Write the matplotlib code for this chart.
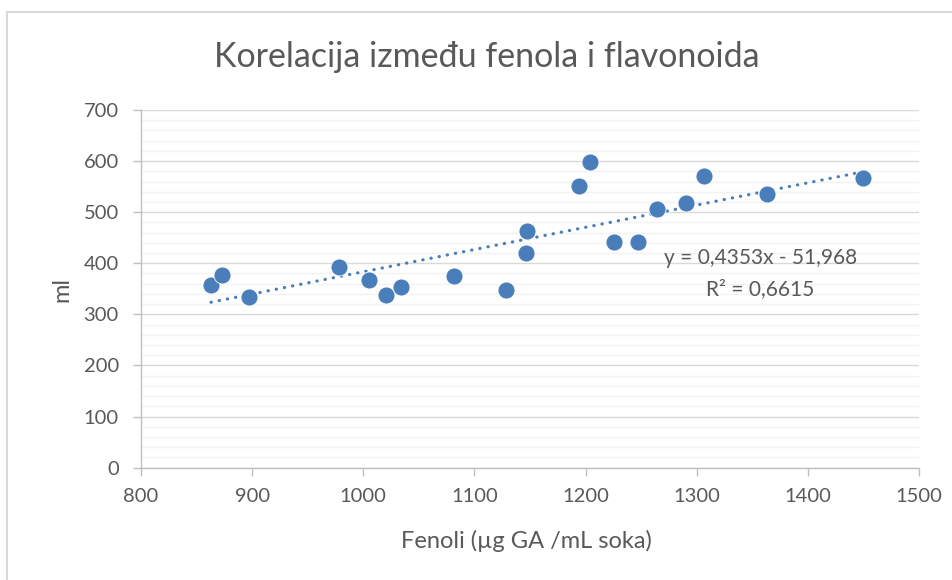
import matplotlib
matplotlib.use("Agg")
import matplotlib.pyplot as plt
from matplotlib.patches import Rectangle
import numpy as np

plt.rcParams['font.family'] = ['Lato', 'DejaVu Sans']

fenoli = [863, 873, 897, 978, 1005, 1020, 1034, 1082, 1128, 1146, 1147,
          1194, 1204, 1226, 1247, 1264, 1290, 1307, 1363, 1450]
flavonoidi = [358, 377, 334, 392, 368, 338, 354, 375, 347, 421, 463,
              551, 598, 441, 441, 507, 518, 570, 535, 566]

slope = 0.4353
intercept = -51.968
eq_text = "y = 0,4353x - 51,968"
r2_text = "R² = 0,6615"

title = "Korelacija između fenola i flavonoida"
xlabel = "Fenoli (µg GA /mL soka)"
ylabel = "ml"
xticks = [800, 900, 1000, 1100, 1200, 1300, 1400, 1500]
yticks = [0, 100, 200, 300, 400, 500, 600, 700]

txt = '#595959'
blue = '#4a7ebb'

fig = plt.figure(figsize=(9.53, 5.80), dpi=100)
fig.patches.append(Rectangle((6.5/953, -0.1), 1.2, 1.1 - 11.5/580, transform=fig.transFigure,
                             fill=False, edgecolor='#d9d9d9', linewidth=1.5))
ax = fig.add_axes([141/953, 1-467.6/580, 778/953, 357.6/580])

ax.set_xlim(800, 1500)
ax.set_ylim(0, 700)
ax.set_xticks(xticks)
ax.set_yticks(yticks)
ax.set_yticks(np.arange(0, 701, 20), minor=True)
ax.grid(which='major', axis='y', color='#d9d9d9', linewidth=1.0, zorder=0)
ax.grid(which='minor', axis='y', color='#f2f2f2', linewidth=1.0, zorder=0)
ax.set_axisbelow(True)
for s in ['top', 'right']:
    ax.spines[s].set_visible(False)
for s in ['left', 'bottom']:
    ax.spines[s].set_color('#bfbfbf')
    ax.spines[s].set_linewidth(1.0)
ax.tick_params(which='major', axis='both', colors='#bfbfbf', labelcolor=txt,
               labelsize=14.5, length=6, width=1)
ax.tick_params(which='minor', axis='y', length=0)
ax.tick_params(axis='x', pad=9)
ax.tick_params(axis='y', pad=10)

ax.scatter(fenoli, flavonoidi, s=150, color=blue, edgecolors='white', linewidths=0.6, zorder=3)

xs = np.array([min(fenoli), max(fenoli)])
ax.plot(xs, slope*xs + intercept, color=blue, linewidth=2.3, linestyle=(0, (0.1, 2.5)),
        dash_capstyle='round', zorder=2)

ax.text(1357, 410, eq_text, ha='center', va='center', fontsize=15, color=txt, zorder=4)
ax.text(1357, 350, r2_text, ha='center', va='center', fontsize=15, color=txt, zorder=4)

fig.text(487/953, 1-57/580, title, ha='center', va='center', fontsize=24.5, color=txt)
fig.text(526/953, 1-541/580, xlabel, ha='center', va='center', fontsize=17, color=txt)
fig.text(62/953, 1-290/580, ylabel, ha='center', va='center', fontsize=17, color=txt, rotation=90)

fig.savefig('out.png', dpi=100)
